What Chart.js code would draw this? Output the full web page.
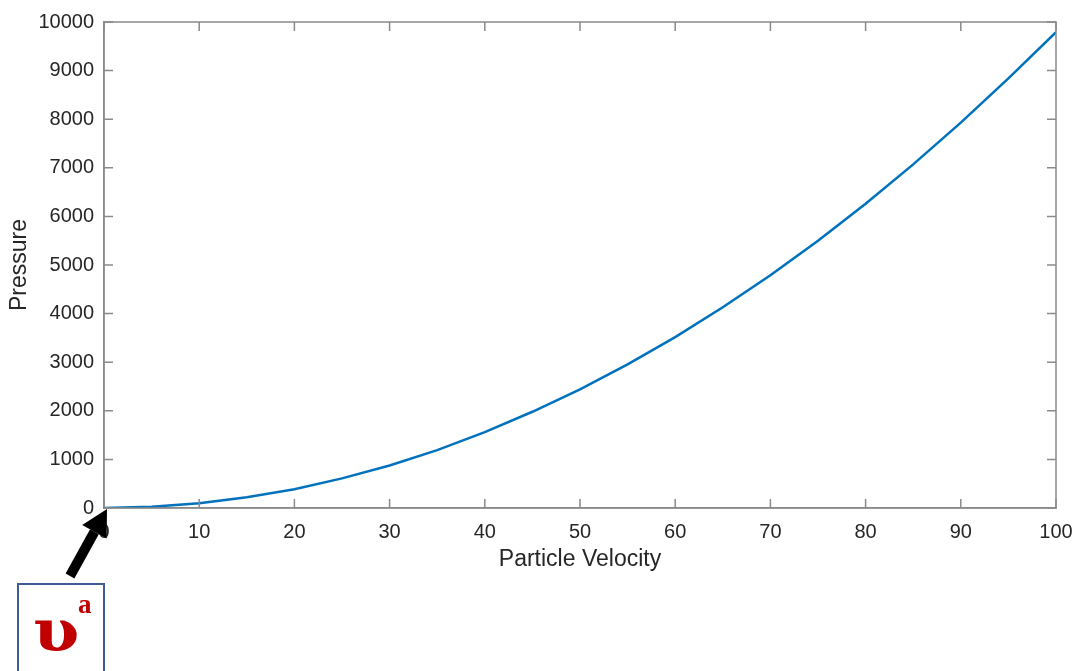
<!DOCTYPE html>
<html>
<head>
<meta charset="utf-8">
<script src="https://cdn.jsdelivr.net/npm/chart.js@4"></script>
<style>
  html, body { margin: 0; padding: 0; background: #ffffff; }
  #wrap { width: 1081px; height: 671px; position: relative; }
</style>
</head>
<body>
<div id="wrap"><canvas id="pressureChart" width="1081" height="671"></canvas></div>
<script>
        // Particle velocity samples and the pressure read at each one
        const velocity = [0, 5, 10, 15, 20, 25, 30, 35, 40, 45, 50, 55, 60, 65, 70, 75, 80, 85, 90, 95, 100];
        const pressure = [0, 25, 98, 220, 385, 610, 875, 1190, 1560, 1980, 2440, 2955, 3515, 4130, 4790, 5500, 6260, 7070, 7930, 8840, 9790];

        const xTicks = [0, 10, 20, 30, 40, 50, 60, 70, 80, 90, 100];
        const yTicks = [0, 1000, 2000, 3000, 4000, 5000, 6000, 7000, 8000, 9000, 10000];

        const axisColor = '#8a8a8a';
        const textColor = '#262626';

        // Box around the plot with MATLAB style inward ticks, plus the arrow + label at the origin
        const boxPlugin = {
            id: 'boxPlugin',
            afterDraw(chart) {
                const ctx = chart.ctx;
                const a = chart.chartArea;
                const xs = chart.scales.x, ys = chart.scales.y;
                ctx.save();
                ctx.strokeStyle = axisColor;
                ctx.lineWidth = 1.5;
                ctx.strokeRect(a.left, a.top, a.right - a.left, a.bottom - a.top);
                const len = 9;
                ctx.beginPath();
                xTicks.forEach(v => {
                    const px = xs.getPixelForValue(v);
                    ctx.moveTo(px, a.bottom); ctx.lineTo(px, a.bottom - len);
                    ctx.moveTo(px, a.top); ctx.lineTo(px, a.top + len);
                });
                yTicks.forEach(v => {
                    const py = ys.getPixelForValue(v);
                    ctx.moveTo(a.left, py); ctx.lineTo(a.left + len, py);
                    ctx.moveTo(a.right, py); ctx.lineTo(a.right - len, py);
                });
                ctx.stroke();

                // arrow pointing at the origin
                const tx = xs.getPixelForValue(0) + 3;
                const ty = ys.getPixelForValue(0) + 1;
                const sx = 70, sy = 576;
                const ang = Math.atan2(ty - sy, tx - sx);
                const head = 26;
                const bx = tx - Math.cos(ang) * head, by = ty - Math.sin(ang) * head;
                ctx.strokeStyle = '#000000';
                ctx.fillStyle = '#000000';
                ctx.lineWidth = 10;
                ctx.beginPath();
                ctx.moveTo(sx, sy); ctx.lineTo(bx, by);
                ctx.stroke();
                ctx.beginPath();
                ctx.moveTo(tx, ty);
                ctx.lineTo(bx + Math.cos(ang + Math.PI / 2) * 14, by + Math.sin(ang + Math.PI / 2) * 14);
                ctx.lineTo(bx + Math.cos(ang - Math.PI / 2) * 14, by + Math.sin(ang - Math.PI / 2) * 14);
                ctx.closePath();
                ctx.fill();

                // label box
                ctx.strokeStyle = '#3f5b95';
                ctx.lineWidth = 2;
                ctx.strokeRect(18, 584, 86, 100);
                ctx.fillStyle = '#c00000';
                ctx.textBaseline = 'alphabetic';
                ctx.textAlign = 'left';
                ctx.save();
                ctx.translate(33, 651);
                ctx.scale(1.15, 1);
                ctx.font = 'bold 58px "DejaVu Serif", "Liberation Serif", serif';
                ctx.fillText('υ', 0, 0);
                ctx.restore();
                ctx.font = 'bold 27px "Liberation Serif", serif';
                ctx.fillText('a', 78, 613);
                ctx.restore();
            }
        };

        // keep the plot box edges fixed, no extra room for the end labels
        const noEdgePad = s => { s.paddingLeft = 0; s.paddingRight = 0; };

        const ctx = document.getElementById('pressureChart').getContext('2d');
        new Chart(ctx, {
            type: 'line',
            data: {
                datasets: [{
                    data: velocity.map((v, i) => ({ x: v, y: pressure[i] })),
                    borderColor: '#0072BD',
                    borderWidth: 2.5,
                    pointRadius: 0,
                    fill: false,
                    tension: 0
                }]
            },
            options: {
                responsive: false,
                animation: false,
                layout: { padding: { top: 20, right: 25, left: 0, bottom: 0 } },
                plugins: {
                    legend: { display: false },
                    tooltip: { enabled: false }
                },
                scales: {
                    x: {
                        type: 'linear',
                        min: 0, max: 100,
                        afterFit: s => { s.height = 163; noEdgePad(s); },
                        afterBuildTicks: s => { s.ticks = xTicks.map(v => ({ value: v })); },
                        grid: { display: false, drawTicks: false },
                        border: { color: axisColor, width: 1.5 },
                        ticks: { padding: 12, color: textColor, font: { family: 'Liberation Sans', size: 20 } },
                        title: { display: true, text: 'Particle Velocity', color: textColor,
                                 font: { family: 'Liberation Sans', size: 23 }, padding: { top: 0, bottom: 98 } }
                    },
                    y: {
                        type: 'linear',
                        min: 0, max: 10000,
                        afterFit: s => { s.width = 104; },
                        afterBuildTicks: s => { s.ticks = yTicks.map(v => ({ value: v })); },
                        grid: { display: false, drawTicks: false },
                        border: { color: axisColor, width: 1.5 },
                        ticks: { padding: 10, color: textColor, font: { family: 'Liberation Sans', size: 20 },
                                 callback: v => String(v) },
                        title: { display: true, text: 'Pressure', color: textColor,
                                 font: { family: 'Liberation Sans', size: 23 }, padding: { top: 6, bottom: 0 } }
                    }
                }
            },
            plugins: [boxPlugin]
        });
</script>
</body>
</html>
